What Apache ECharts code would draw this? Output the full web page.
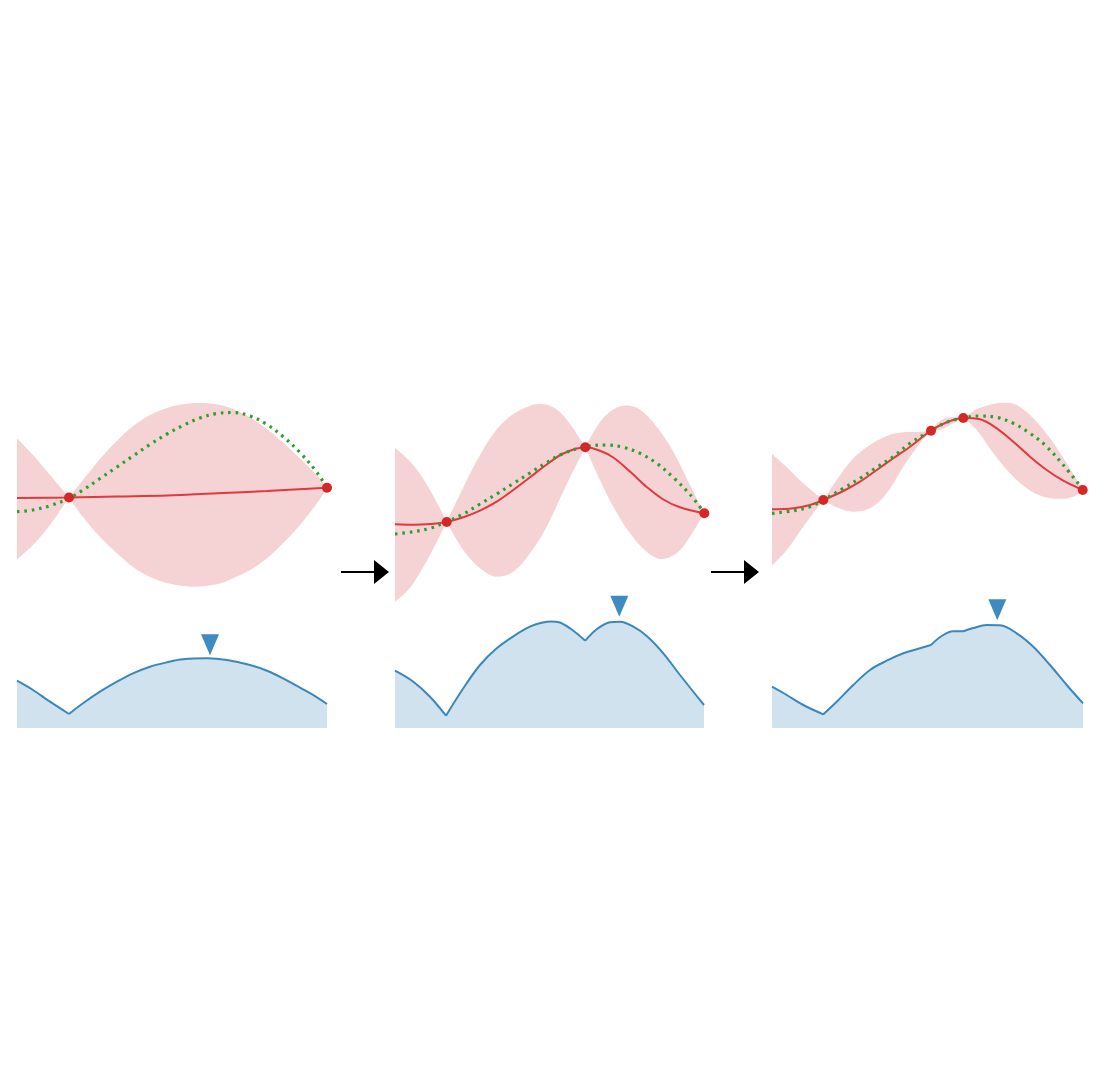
<!DOCTYPE html>
<html>
<head>
<meta charset="utf-8">
<style>html,body{margin:0;padding:0;background:#fff}#chart{width:1107px;height:1069px;filter:blur(0.7px)}</style>
<script src="https://cdn.jsdelivr.net/npm/echarts@6/dist/echarts.min.js"></script>
</head>
<body>
<div id="chart"></div>
<script>
// x = distance along the panel, y = height above the acquisition baseline
const upper1 = [[0,289.7],[16,273],[33,253],[52,230.5],[66,248],[83,269],[100,287.3],[116,301.8],[133,313],[150,320],[166,323.7],[183,325],[200,323.5],[216,319],[233,310.5],[250,299],[266,285.5],[283,269.5],[300,252.5],[310,240.3]];
const lower1 = [[0,168.7],[16,183],[33,203],[52,230.5],[66,211],[83,191],[100,174.7],[116,161],[133,151],[150,145],[166,142],[176,141.3],[200,143.7],[216,149.7],[233,158],[250,169.7],[266,184.7],[283,203],[300,224.7],[310,240.3]];
const mean1 = [[0,230],[52,230.5],[100,231.5],[150,232.5],[200,234.7],[250,237],[310,240.3]];
const truth1 = [[0,216.3],[16,218],[33,222.3],[52,229.7],[66,238],[83,249.5],[100,261],[116,272],[133,283.5],[150,294],[166,302.5],[183,310],[200,314.5],[216,315.5],[233,312],[250,303.5],[266,291.5],[283,275.5],[300,255.5],[310,240.3]];
const acq1 = [[0,47.3],[16,38],[33,26.3],[52,14],[66,24.7],[83,36.3],[100,46.3],[116,54.7],[133,61.3],[150,65.7],[166,68.7],[190,69.7],[210,68],[233,63],[250,57.3],[266,49.7],[283,40.3],[300,30.7],[310,24]];
const obs1 = [[52,230.5],[310,240.3]];
const next1 = [[193,83.3]];
const cusps1 = [52];

const upper2 = [[0,280.3],[18.3,263],[35,238],[51.7,206.3],[68.3,240.5],[85,273],[101.7,298.5],[118.3,314],[135,322.3],[146.7,324],[161.7,318.5],[175,304],[190.3,280.7],[205,306],[218.3,318.5],[231.7,322.5],[245,318.5],[261.7,301.3],[278.3,276.3],[295,243],[309,214.7]];
const lower2 = [[0,126.3],[10,134.7],[18.3,144.7],[35,173],[51.7,206.3],[68.3,178],[85,159.7],[101.7,151.3],[118.3,156.3],[135,174.7],[151.7,201.3],[168.3,236.5],[190.3,280.7],[205,248],[218.3,221.3],[235,194.7],[251.7,176.3],[266.7,169],[281.7,174.7],[295,191.3],[309,214.7]];
const mean2 = [[0,203.7],[18.3,203.3],[35,204],[51.7,206],[68.3,210.7],[85,217.3],[101.7,226.3],[118.3,238],[135,250.7],[151.7,263.5],[168.3,274.5],[190.3,280.7],[205,277.3],[218.3,270.5],[235,256.5],[251.7,241],[268.3,228.5],[285,220.7],[309.3,214.7]];
const truth2 = [[0,194],[18.3,196.3],[35,199.7],[51.7,206.3],[68.3,214],[85,224],[101.7,234],[118.3,244.5],[135,255],[151.7,265.5],[168.3,274.5],[190.3,281.3],[211.7,283],[228.3,280.7],[245,274.7],[261.7,264.7],[278.3,250.5],[295,233.5],[309.3,215.3]];
const acq2 = [[0,57.3],[18.3,46.3],[35,31.3],[51,12.3],[68.3,39.7],[85,63],[101.7,79.7],[118.3,91.7],[135,101.3],[148,105.5],[156,106.6],[164,105.8],[175,99.7],[190.3,87.3],[201.7,98.7],[215,105.7],[225,106.3],[238.3,101.3],[251.7,92],[268.3,74.7],[285,53],[309,23]];
const obs2 = [[51.7,206],[190.3,280.7],[309.3,214.7]];
const next2 = [[224.3,121.7]];
const cusps2 = [51, 51.7, 190.3];

const upper3 = [[0,274],[14.7,260.7],[31.3,244.7],[51.3,228],[64.7,248],[81.3,269.7],[98,283],[114.7,292],[131.3,295.7],[148,296.3],[159,297.3],[168,307],[178,310.7],[191.3,310],[204.7,318.7],[221.3,324],[231.3,325.3],[244.7,323],[261.3,309.7],[278,289.7],[294.7,264.7],[311,238]];
const lower3 = [[0,162.3],[14.7,178],[31.3,201.3],[51.3,228],[64.7,220.7],[81.3,216.3],[98,219.7],[114.7,234.7],[131.3,261.3],[148,284.7],[159,297.3],[169.7,298.7],[181.3,304.7],[191.3,310],[204.7,298],[221.3,274.7],[238,254.7],[254.7,239.7],[271.3,231.3],[288,229.3],[301.3,231.3],[311,238]];
const mean3 = [[0,218.7],[21.3,219.7],[38,223],[51.3,228],[71.3,237],[88,246.3],[104.7,258],[121.3,269.7],[138,281.3],[159,297.3],[174.7,305.7],[191.3,310],[208,308.7],[224.7,299.7],[241.3,286.3],[258,271.3],[274.7,258],[291.3,247.3],[310.7,238]];
const truth3 = [[0,214.7],[21.3,217.3],[38,221.3],[51.3,228],[71.3,239.7],[88,249.7],[104.7,260.7],[121.3,271.3],[138,284.7],[159,297.3],[174.7,305.7],[191.3,310],[208,312],[224.7,310.7],[241.3,304.7],[258,294.7],[274.7,281.3],[291.3,263],[310.7,238.7]];
const acq3 = [[0,41.3],[14.7,33],[31.3,23],[51.3,13.7],[64.7,26.3],[81.3,43],[98,58],[114.7,67.3],[131.3,74.7],[148,79.7],[159,83],[169.7,92],[181.3,96.7],[191.3,96.7],[201.3,100],[214.7,103],[228,102.7],[244.7,94.7],[261.3,81.3],[278,63],[294.7,43],[311,24.7]];
const obs3 = [[51.3,228],[159,297.3],[191.3,310],[310.7,238]];
const next3 = [[225.3,118.3]];
const cusps3 = [51.3, 159, 191.3];

const panels = [
  {left:17,  upper:upper1, lower:lower1, mean:mean1, truth:truth1, acq:acq1, obs:obs1, next:next1, cusps:cusps1},
  {left:395, upper:upper2, lower:lower2, mean:mean2, truth:truth2, acq:acq2, obs:obs2, next:next2, cusps:cusps2},
  {left:772, upper:upper3, lower:lower3, mean:mean3, truth:truth3, acq:acq3, obs:obs3, next:next3, cusps:cusps3}
];

// A sharp kink: the curve is broken at the observation so smoothing does not round it.
function splitAt(points, cusps){
  const out=[];
  points.forEach(pt=>{
    out.push(pt);
    if(cusps.includes(pt[0])){ out.push([pt[0],null]); out.push(pt); }
  });
  return out;
}

const PINK='#f5d3d5', BLUE_FILL='#d1e2ef', BLUE='#3a87bd', RED='#e0393e', DOT='#d62728', GREEN='#2ca02c';
const grid=[], xAxis=[], yAxis=[], series=[];
panels.forEach((p,i)=>{
  grid.push({left:p.left, top:380, width:311, height:348, containLabel:false});
  xAxis.push({type:'value', gridIndex:i, min:0, max:311, show:false});
  yAxis.push({type:'value', gridIndex:i, min:0, max:348, show:false});
  const base={type:'line', xAxisIndex:i, yAxisIndex:i, symbol:'none', showSymbol:false, silent:true, animation:false, clip:false, smooth:0.36, connectNulls:false};
  series.push(Object.assign({},base,{data:splitAt(p.upper,p.cusps), z:1, lineStyle:{width:0}, areaStyle:{color:PINK, opacity:1, origin:'start'}}));
  series.push(Object.assign({},base,{data:splitAt(p.lower,p.cusps), z:2, lineStyle:{width:0}, areaStyle:{color:'#ffffff', opacity:1, origin:'start'}}));
  series.push(Object.assign({},base,{data:splitAt(p.acq,p.cusps), z:3, lineStyle:{color:BLUE, width:2}, areaStyle:{color:BLUE_FILL, opacity:1, origin:'start'}}));
  series.push(Object.assign({},base,{data:p.mean, z:4, lineStyle:{color:RED, width:2}}));
  series.push(Object.assign({},base,{data:p.truth, z:5, lineStyle:{color:GREEN, width:3.2, type:[2.6,4.8]}}));
  series.push({type:'scatter', xAxisIndex:i, yAxisIndex:i, data:p.obs, z:6, symbol:'circle', symbolSize:10, itemStyle:{color:DOT, opacity:1}, silent:true, animation:false, clip:false});
  series.push({type:'scatter', xAxisIndex:i, yAxisIndex:i, data:p.next, z:6, symbol:'triangle', symbolRotate:180, symbolSize:[18,21], itemStyle:{color:'#3d8bc0', opacity:1}, silent:true, animation:false, clip:false});
});
function arrow(x0,xBase,xTip,y){
  return [
    {type:'line', shape:{x1:x0,y1:y,x2:xBase,y2:y}, style:{stroke:'#000',lineWidth:2}, z:10},
    {type:'polygon', shape:{points:[[xBase,y-12],[xTip,y],[xBase,y+12]]}, style:{fill:'#000'}, z:10}
  ];
}
const chart=echarts.init(document.getElementById('chart'),null,{renderer:'canvas'});
chart.setOption({
  backgroundColor:'#ffffff', animation:false,
  grid, xAxis, yAxis, series,
  graphic:{elements:[...arrow(341,374,389,572), ...arrow(711,744,759,572)]}
});
</script>
</body>
</html>
